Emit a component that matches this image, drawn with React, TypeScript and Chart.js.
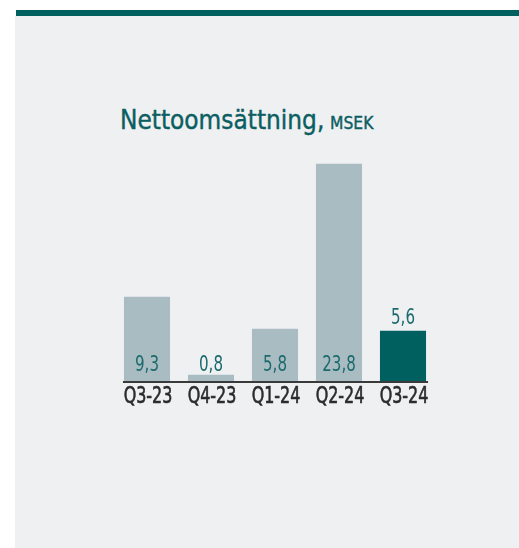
import React, { useEffect, useRef } from "react";
import { Chart, registerables } from "chart.js";

Chart.register(...registerables);

const categories = ["Q3-23", "Q4-23", "Q1-24", "Q2-24", "Q3-24"];
const values = [9.3, 0.8, 5.8, 23.8, 5.6];
const valueLabels = ["9,3", "0,8", "5,8", "23,8", "5,6"];
const highlightIndex = 4;

const FONT = '"DejaVu Sans Condensed", "Liberation Sans Narrow", Roboto, sans-serif';
const TEAL = "#00605f";
const GRAY_BAR = "#a9bcc1";

function drawScaled(ctx: CanvasRenderingContext2D, text: string, x: number, y: number, sx: number, stroke: number) {
  ctx.save();
  ctx.translate(x, y);
  ctx.scale(sx, 1);
  ctx.fillText(text, 0, 0);
  if (stroke > 0) {
    ctx.lineWidth = stroke;
    ctx.strokeText(text, 0, 0);
  }
  ctx.restore();
}

const overlayPlugin = {
  id: "overlay",
  afterDatasetsDraw(chart: any) {
    const ctx: CanvasRenderingContext2D = chart.ctx;
    const meta = chart.getDatasetMeta(0);
    const area = chart.chartArea;
    ctx.save();
    const first = meta.data[0];
    const last = meta.data[meta.data.length - 1];
    ctx.strokeStyle = "#3a3a3a";
    ctx.lineWidth = 2;
    ctx.beginPath();
    ctx.moveTo(first.x - first.width / 2 - 1, area.bottom);
    ctx.lineTo(last.x + last.width / 2 + 2, area.bottom);
    ctx.stroke();

    // value labels
    ctx.font = `20.5px ${FONT}`;
    ctx.fillStyle = "#1b6a6e";
    ctx.strokeStyle = "#1b6a6e";
    ctx.textAlign = "center";
    ctx.textBaseline = "alphabetic";
    const vs = 24 / ctx.measureText("9,3").width;
    meta.data.forEach((bar: any, i: number) => {
      const y = i === highlightIndex ? bar.y - 7 : area.bottom - 11;
      drawScaled(ctx, valueLabels[i], bar.x, y, vs, 0);
    });

    // category labels
    ctx.font = `23px ${FONT}`;
    ctx.fillStyle = "#2b2b2b";
    ctx.strokeStyle = "#2b2b2b";
    const cs = 48.7 / ctx.measureText("Q3-23").width;
    const xScale = chart.scales.x;
    categories.forEach((c, i) => {
      drawScaled(ctx, c, xScale.getPixelForValue(i) + 1, area.bottom + 21, cs, 0.6);
    });
    ctx.restore();
  },
};

export default function App() {
  const ref = useRef<HTMLCanvasElement | null>(null);
  useEffect(() => {
    if (!ref.current) return;
    const chart = new Chart(ref.current, {
      type: "bar",
      data: {
        labels: categories,
        datasets: [
          {
            data: values,
            backgroundColor: values.map((_, i) => (i === highlightIndex ? TEAL : GRAY_BAR)),
            borderWidth: 0,
            barPercentage: 0.72,
            categoryPercentage: 1,
          },
        ],
      },
      options: {
        animation: false,
        responsive: false,
        maintainAspectRatio: false,
        layout: { padding: { left: 115, right: 84, top: 107, bottom: 166 } },
        plugins: { legend: { display: false }, title: { display: false }, tooltip: { enabled: false } },
        scales: {
          x: {
            grid: { display: false, drawTicks: false },
            border: { display: false },
            ticks: { display: false },
          },
          y: {
            display: false,
            min: 0,
            max: 30,
          },
        },
      },
      plugins: [overlayPlugin],
    });
    return () => chart.destroy();
  }, []);

  return (
    <div style={{ position: "fixed", left: 0, top: 0, width: 519, height: 548, background: "#ffffff", overflow: "hidden" }}>
      <div style={{ position: "absolute", left: 15, top: 16, width: 504, height: 532, background: "#eff0f2" }} />
      <div style={{ position: "absolute", left: 16, top: 10, width: 503, height: 6, background: TEAL }} />
      <div
        style={{
          position: "absolute",
          left: 120,
          top: 100,
          whiteSpace: "nowrap",
          fontFamily: FONT,
          color: "#0b5e61",
          lineHeight: "40px",
          transform: "scaleX(0.96)",
          transformOrigin: "left center",
          WebkitTextStroke: "0.4px #0b5e61",
        }}
      >
        <span style={{ fontSize: 27 }}>Nettoomsättning,</span>
        <span style={{ fontSize: 18, marginLeft: 6 }}>MSEK</span>
      </div>
      <canvas ref={ref} width={519} height={548} style={{ position: "absolute", left: 0, top: 0, width: 519, height: 548 }} />
    </div>
  );
}
